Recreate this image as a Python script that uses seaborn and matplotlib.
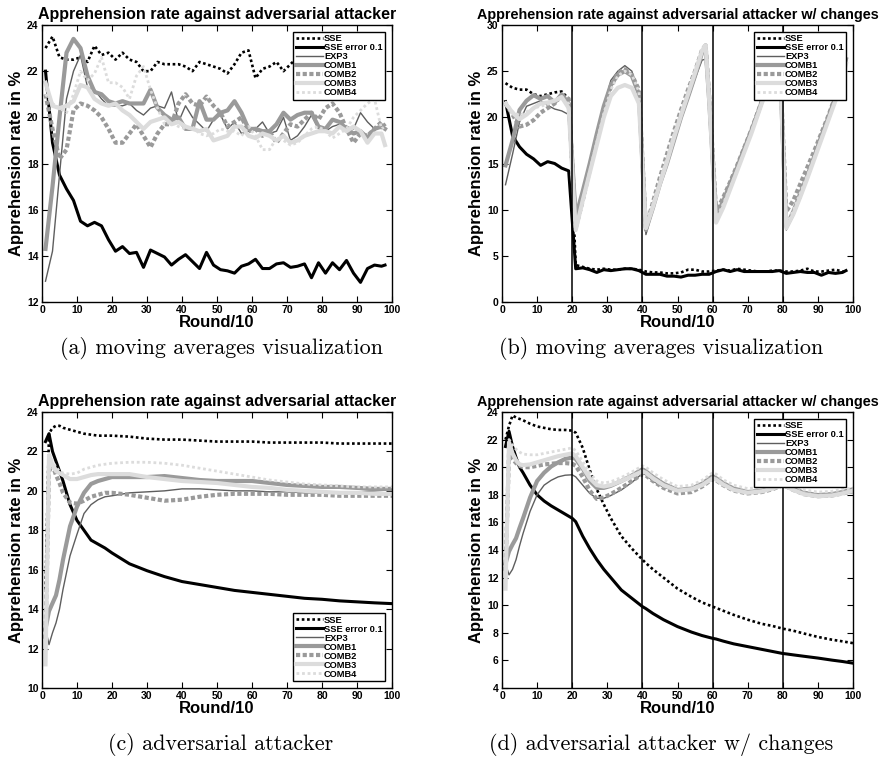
import matplotlib
matplotlib.use("Agg")
import matplotlib.pyplot as plt
import seaborn as sns

# ---------------- data ----------------
SERIES = ["SSE", "SSE error 0.1", "EXP3", "COMB1", "COMB2", "COMB3", "COMB4"]
CHANGE_POINTS = [20, 40, 60, 80]

# (a) moving averages, adversarial attacker
ROUNDS_A = list(range(1, 98, 2)) + [98]
A_SSE = [23.0, 23.5, 22.6, 22.5, 22.5, 22.6, 22.4, 23.1, 22.7, 22.8,
         22.5, 22.8, 22.5, 22.4, 22.0, 22.0, 22.4, 22.3, 22.3, 22.3,
         22.2, 22.0, 22.4, 22.3, 22.2, 22.1, 21.9, 22.3, 22.8, 22.9,
         21.7, 22.1, 22.2, 22.4, 22.0, 22.3, 22.6, 22.3, 22.4, 22.2,
         22.5, 22.3, 22.4, 22.2, 22.5, 22.3, 22.4, 22.5, 22.4, 22.5]
A_SSE_ERR = [22.0, 18.9, 17.5, 16.9, 16.4, 15.5, 15.3, 15.45, 15.3, 14.7,
             14.2, 14.4, 14.1, 14.15, 13.5, 14.25, 14.1, 13.95, 13.6, 13.85,
             14.05, 13.75, 13.45, 14.15, 13.6, 13.4, 13.35, 13.25, 13.55, 13.65,
             13.85, 13.45, 13.45, 13.65, 13.7, 13.5, 13.55, 13.65, 13.05, 13.7,
             13.25, 13.7, 13.4, 13.8, 13.25, 12.85, 13.45, 13.6, 13.55, 13.6]
A_EXP3 = [12.9, 14.2, 17.5, 20.8, 22.0, 22.7, 21.3, 21.2, 20.8, 20.5,
          20.5, 20.5, 20.6, 20.3, 20.1, 20.4, 20.5, 20.4, 21.1, 19.8,
          20.5, 20.0, 19.7, 19.4, 19.9, 20.1, 19.5, 19.8, 19.3, 19.4,
          19.5, 19.8, 19.3, 19.4, 20.0, 19.0, 19.2, 19.6, 20.1, 19.5,
          19.4, 19.6, 19.7, 19.6, 19.5, 20.2, 19.8, 19.5, 19.6, 19.5]
A_COMB1 = [14.3, 17.0, 20.0, 22.8, 23.4, 23.0, 21.8, 21.1, 21.0, 20.7,
           20.6, 20.7, 20.6, 20.6, 20.6, 21.2, 20.4, 20.1, 19.9, 20.0,
           19.5, 19.5, 20.7, 19.9, 19.9, 20.2, 20.3, 20.7, 20.2, 19.5,
           19.5, 19.4, 19.4, 19.7, 20.2, 19.9, 20.1, 20.2, 20.2, 19.6,
           19.5, 19.9, 19.8, 19.5, 19.3, 19.4, 19.1, 19.5, 19.6, 19.5]
A_COMB2 = [21.0, 19.5, 18.2, 18.6, 20.3, 20.6, 20.5, 20.3, 20.0, 19.5,
           18.9, 18.9, 19.3, 19.7, 19.2, 18.7, 19.3, 19.7, 19.7, 20.6,
           21.0, 20.6, 20.5, 20.9, 20.5, 20.2, 19.6, 19.8, 20.0, 19.4,
           19.5, 19.2, 19.4, 18.9, 19.3, 19.7, 19.6, 19.9, 20.2, 19.9,
           20.4, 20.6, 20.2, 19.5, 18.9, 19.3, 19.2, 19.5, 19.8, 19.6]
A_COMB3 = [21.5, 20.5, 20.4, 20.5, 20.7, 21.4, 21.3, 20.8, 20.6, 20.5,
           20.6, 20.3, 20.1, 19.8, 19.5, 19.8, 19.9, 20.0, 19.7, 19.8,
           19.6, 19.5, 19.4, 19.5, 19.0, 19.1, 19.2, 19.6, 19.6, 19.2,
           19.1, 19.3, 19.2, 19.0, 19.2, 18.9, 19.0, 19.2, 19.3, 19.4,
           19.4, 19.3, 19.6, 19.4, 19.6, 19.4, 18.9, 19.3, 19.3, 18.8]
A_COMB4 = [21.0, 20.6, 20.4, 20.2, 21.0, 22.0, 21.6, 21.9, 22.6, 21.5,
           21.5, 21.3, 20.8, 21.8, 22.2, 21.2, 20.4, 19.7, 19.8, 19.6,
           19.5, 19.6, 19.3, 19.2, 19.3, 19.5, 19.4, 19.4, 19.2, 19.6,
           19.2, 18.6, 18.6, 19.1, 19.0, 18.8, 18.9, 19.2, 19.5, 19.6,
           19.4, 19.1, 19.3, 19.5, 20.0, 20.3, 20.6, 20.8, 19.5, 19.6]

# (b) moving averages, adversarial attacker with changes
ROUNDS_B = list(range(1, 58, 2)) + [58] + list(range(59, 98, 2)) + [98]
B_SSE = [23.7, 23.2, 23.0, 23.0, 22.5, 22.3, 22.5, 22.7, 22.8, 22.0,
         4.0, 3.8, 3.6, 3.5, 3.6, 3.5, 3.5, 3.6, 3.6, 3.5,
         3.3, 3.2, 3.2, 3.1, 3.1, 3.2, 3.5, 3.5, 3.3, 3.3,
         3.3, 3.4, 3.5, 3.4, 3.6, 3.5, 3.4, 3.3, 3.3, 3.4,
         3.4, 3.3, 3.3, 3.4, 3.6, 3.3, 3.3, 3.4, 3.5, 3.3, 3.3]
B_SSE_ERR = [21.7, 18.0, 16.8, 16.0, 15.5, 14.8, 15.2, 15.0, 14.5, 14.2,
             3.6, 3.7, 3.5, 3.2, 3.5, 3.4, 3.5, 3.6, 3.6, 3.4,
             3.0, 3.0, 3.0, 2.8, 2.8, 2.7, 2.9, 2.9, 3.0, 3.0,
             3.0, 3.3, 3.5, 3.3, 3.5, 3.3, 3.3, 3.3, 3.3, 3.3,
             3.4, 3.1, 3.2, 3.3, 3.2, 3.2, 2.9, 3.2, 3.1, 3.2, 3.4]
B_EXP3 = [12.7, 16.0, 19.5, 21.2, 21.5, 21.8, 21.3, 20.9, 20.7, 20.3,
          8.8, 11.8, 14.8, 18.0, 21.0, 24.0, 25.0, 25.6, 25.0, 22.5,
          7.3, 10.0, 12.5, 14.8, 17.3, 19.8, 22.0, 24.2, 26.2, 26.3,
          22.0, 9.2, 10.8, 12.7, 14.5, 16.5, 18.5, 20.5, 22.6, 24.8,
          27.0, 7.8, 9.3, 11.2, 13.3, 15.5, 17.7, 19.8, 22.0, 24.6, 26.0]
B_COMB1 = [14.8, 17.5, 20.8, 21.8, 22.4, 22.0, 22.3, 21.6, 22.5, 21.5,
           9.2, 12.0, 15.0, 18.2, 21.2, 23.5, 24.6, 25.0, 24.5, 22.5,
           7.8, 10.2, 12.8, 15.0, 17.5, 20.0, 22.2, 24.5, 27.0, 27.6,
           22.0, 9.3, 10.9, 12.8, 14.6, 16.6, 18.5, 20.6, 22.8, 25.0,
           27.3, 8.2, 9.8, 11.8, 13.7, 15.8, 18.0, 20.0, 22.2, 24.8, 26.3]
B_COMB2 = [21.5, 20.3, 19.0, 19.2, 19.7, 20.5, 21.0, 21.5, 22.4, 22.0,
           8.0, 11.0, 14.3, 17.5, 20.8, 23.3, 24.8, 25.2, 24.6, 23.0,
           8.0, 10.8, 13.5, 16.0, 18.5, 20.8, 23.0, 25.0, 27.3, 27.8,
           22.5, 9.8, 11.3, 13.0, 14.8, 16.7, 18.6, 20.7, 22.8, 25.0,
           27.3, 9.8, 11.0, 12.8, 14.6, 16.4, 18.3, 20.2, 22.3, 24.8, 26.5]
B_COMB3 = [21.5, 20.5, 19.8, 20.3, 21.0, 21.5, 21.6, 21.8, 22.2, 21.0,
           7.8, 11.0, 14.0, 17.0, 20.0, 22.3, 23.2, 23.5, 23.2, 21.5,
           8.0, 10.3, 12.8, 15.2, 17.8, 20.2, 22.5, 24.8, 27.2, 27.8,
           22.0, 8.6, 10.2, 12.2, 14.2, 16.2, 18.2, 20.4, 22.6, 24.8,
           27.0, 8.0, 9.5, 11.4, 13.4, 15.5, 17.6, 19.7, 21.8, 24.3, 25.8]
B_COMB4 = [21.7, 20.6, 20.2, 20.6, 21.0, 21.2, 21.4, 21.8, 22.0, 21.5,
           7.6, 11.0, 14.2, 17.3, 20.4, 23.0, 24.5, 25.0, 24.6, 22.8,
           8.2, 10.6, 13.2, 15.6, 18.2, 20.5, 22.8, 25.0, 27.4, 28.0,
           22.5, 9.0, 10.6, 12.4, 14.3, 16.3, 18.4, 20.5, 22.7, 25.0,
           27.2, 8.4, 9.9, 11.8, 13.7, 15.7, 17.8, 19.8, 21.9, 24.4, 26.0]

# (c) adversarial attacker
ROUNDS_C = [1, 2, 3, 4, 5, 6, 8, 10, 12, 14, 16, 18, 20, 25, 30,
            35, 40, 45, 50, 55, 60, 65, 70, 75, 80, 85, 90, 95, 100]
C_SSE = [15.0, 22.9, 23.2, 23.3, 23.3, 23.2, 23.1, 23.0, 22.9, 22.85,
         22.8, 22.8, 22.8, 22.75, 22.65, 22.6, 22.6, 22.55, 22.5, 22.5,
         22.5, 22.45, 22.45, 22.45, 22.45, 22.4, 22.4, 22.4, 22.4]
C_SSE_ERR = [22.5, 22.9, 22.0, 21.5, 21.0, 20.5, 19.3, 18.5, 18.0, 17.5,
             17.3, 17.1, 16.85, 16.3, 15.95, 15.65, 15.4, 15.25, 15.1, 14.95,
             14.85, 14.75, 14.65, 14.55, 14.5, 14.42, 14.37, 14.32, 14.28]
C_EXP3 = [13.0, 12.2, 12.8, 13.3, 14.0, 15.0, 16.7, 17.8, 18.85, 19.3,
          19.55, 19.7, 19.75, 19.9, 19.95, 20.0, 20.1, 20.1, 20.05, 20.0,
          20.0, 19.95, 19.95, 19.9, 19.9, 19.9, 19.95, 20.0, 20.05]
C_COMB1 = [13.0, 13.9, 14.3, 14.7, 15.5, 16.5, 18.2, 19.2, 19.9, 20.35,
           20.5, 20.6, 20.7, 20.7, 20.7, 20.75, 20.65, 20.55, 20.5, 20.5,
           20.5, 20.4, 20.3, 20.25, 20.2, 20.2, 20.15, 20.1, 20.1]
C_COMB2 = [12.5, 21.0, 21.3, 20.8, 20.4, 19.9, 19.4, 19.35, 19.5, 19.7,
           19.8, 19.9, 19.9, 19.8, 19.65, 19.5, 19.55, 19.7, 19.8, 19.85,
           19.85, 19.85, 19.8, 19.8, 19.8, 19.75, 19.75, 19.75, 19.75]
C_COMB3 = [11.2, 21.8, 21.3, 21.0, 20.9, 20.8, 20.6, 20.6, 20.7, 20.8,
           20.85, 20.85, 20.85, 20.85, 20.7, 20.6, 20.5, 20.45, 20.4, 20.3,
           20.2, 20.15, 20.05, 20.0, 19.95, 19.9, 19.9, 19.85, 19.85]
C_COMB4 = [11.5, 21.9, 21.5, 21.2, 21.0, 20.9, 20.85, 20.9, 21.1, 21.2,
           21.3, 21.35, 21.4, 21.45, 21.45, 21.4, 21.3, 21.15, 21.0, 20.85,
           20.7, 20.55, 20.45, 20.35, 20.3, 20.25, 20.2, 20.2, 20.2]

# (d) adversarial attacker with changes
ROUNDS_D = [1, 2, 3, 4, 5, 6, 8, 10, 12, 14, 16, 18, 20, 21, 23,
            25, 27, 29, 31, 34, 37, 40, 41, 43, 46, 50, 54, 57, 60, 61,
            63, 66, 70, 74, 77, 80, 81, 83, 86, 90, 94, 97, 100]
D_SSE = [22.0, 23.0, 23.75, 23.6, 23.5, 23.4, 23.15, 22.95, 22.85, 22.75,
         22.7, 22.7, 22.65, 22.5, 21.4, 19.8, 18.4, 17.3, 16.3, 15.0,
         14.1, 13.3, 13.05, 12.6, 12.0, 11.2, 10.6, 10.2, 9.9, 9.8,
         9.6, 9.3, 8.95, 8.65, 8.5, 8.3, 8.25, 8.15, 7.95, 7.7,
         7.5, 7.38, 7.25]
D_SSE_ERR = [21.5, 22.6, 21.5, 20.7, 20.0, 19.6, 18.7, 18.0, 17.55, 17.2,
             16.9, 16.6, 16.3, 16.05, 15.0, 14.1, 13.3, 12.6, 12.0, 11.1,
             10.5, 9.9, 9.75, 9.4, 8.95, 8.45, 8.05, 7.8, 7.6, 7.55,
             7.4, 7.2, 7.0, 6.8, 6.65, 6.5, 6.47, 6.4, 6.3, 6.17,
             6.02, 5.92, 5.8]
D_EXP3 = [13.0, 12.2, 12.6, 13.3, 14.3, 15.2, 16.8, 18.0, 18.7, 19.05,
          19.3, 19.42, 19.45, 19.3, 18.7, 18.1, 17.75, 17.75, 17.95, 18.35,
          18.9, 19.55, 19.45, 19.0, 18.55, 18.25, 18.35, 18.7, 19.2, 19.1,
          18.7, 18.35, 18.15, 18.25, 18.45, 18.75, 18.65, 18.4, 18.1, 17.9,
          17.95, 18.05, 18.2]
D_COMB1 = [13.0, 13.9, 14.4, 14.85, 15.6, 16.3, 17.8, 19.0, 19.6, 20.05,
           20.35, 20.6, 20.7, 20.6, 19.9, 19.0, 18.5, 18.5, 18.65, 19.0,
           19.4, 19.85, 19.7, 19.3, 18.8, 18.35, 18.45, 18.8, 19.35, 19.2,
           18.85, 18.45, 18.2, 18.3, 18.5, 18.8, 18.7, 18.45, 18.15, 17.98,
           18.05, 18.2, 18.4]
D_COMB2 = [12.5, 21.0, 20.6, 20.3, 20.1, 20.0, 20.0, 20.1, 20.2, 20.25,
           20.3, 20.3, 20.25, 20.1, 19.3, 18.3, 17.7, 17.8, 18.05, 18.5,
           19.0, 19.5, 19.4, 19.0, 18.5, 18.1, 18.2, 18.6, 19.15, 19.05,
           18.7, 18.3, 18.1, 18.2, 18.4, 18.7, 18.6, 18.35, 18.05, 17.9,
           17.95, 18.1, 18.25]
D_COMB3 = [11.2, 21.8, 21.0, 20.5, 20.2, 20.15, 20.2, 20.35, 20.5, 20.65,
           20.8, 20.9, 21.0, 20.8, 20.0, 19.2, 18.7, 18.6, 18.7, 19.0,
           19.35, 19.7, 19.6, 19.2, 18.7, 18.3, 18.4, 18.7, 19.2, 19.1,
           18.75, 18.35, 18.15, 18.25, 18.45, 18.7, 18.6, 18.35, 18.05, 17.9,
           17.95, 18.1, 18.3]
D_COMB4 = [11.5, 22.0, 21.6, 21.3, 21.1, 20.95, 20.9, 20.9, 21.0, 21.1,
           21.2, 21.3, 21.4, 21.2, 20.4, 19.6, 19.0, 18.85, 18.95, 19.25,
           19.65, 20.1, 20.0, 19.6, 19.1, 18.6, 18.7, 19.05, 19.6, 19.5,
           19.1, 18.7, 18.45, 18.55, 18.75, 19.0, 18.9, 18.65, 18.35, 18.2,
           18.25, 18.4, 18.5]

TITLE_1 = "Apprehension rate against adversarial attacker"
TITLE_2 = "Apprehension rate against adversarial attacker w/ changes"
CAPTIONS = ["(a) moving averages visualization", "(b) moving averages visualization",
            "(c) adversarial attacker", "(d) adversarial attacker w/ changes"]

# ---------------- style ----------------
plt.rcParams["font.family"] = ["Liberation Sans", "DejaVu Sans"]
plt.rcParams["font.weight"] = "bold"
plt.rcParams["axes.linewidth"] = 1.0

STYLE = {
    "SSE":           dict(color="black",   lw=1.9, ls=(0, (1, 1))),
    "SSE error 0.1": dict(color="black",   lw=2.2, ls="-"),
    "EXP3":          dict(color="#5e5e5e", lw=1.0, ls="-"),
    "COMB1":         dict(color="#9a9a9a", lw=3.0, ls="-"),
    "COMB2":         dict(color="#9a9a9a", lw=3.0, ls=(0, (1, 0.6))),
    "COMB3":         dict(color="#dcdcdc", lw=3.0, ls="-"),
    "COMB4":         dict(color="#dcdcdc", lw=2.0, ls=(0, (1, 1))),
}

W, H = 881, 769
fig = plt.figure(figsize=(W / 100, H / 100), dpi=100)


def px_axes(l, t, r, b):
    return fig.add_axes([l / W, 1 - b / H, (r - l) / W, (b - t) / H])


panels = [
    dict(box=(42, 25, 392, 302), rounds=ROUNDS_A,
         vals=[A_SSE, A_SSE_ERR, A_EXP3, A_COMB1, A_COMB2, A_COMB3, A_COMB4],
         ylim=(12, 24), ystep=2, title=TITLE_1, tsize=11.5, loc="upper right", changes=False),
    dict(box=(502, 25, 853, 302), rounds=ROUNDS_B,
         vals=[B_SSE, B_SSE_ERR, B_EXP3, B_COMB1, B_COMB2, B_COMB3, B_COMB4],
         ylim=(0, 30), ystep=5, title=TITLE_2, tsize=10.4, loc="upper right", changes=True),
    dict(box=(42, 412, 392, 688), rounds=ROUNDS_C,
         vals=[C_SSE, C_SSE_ERR, C_EXP3, C_COMB1, C_COMB2, C_COMB3, C_COMB4],
         ylim=(10, 24), ystep=2, title=TITLE_1, tsize=11.5, loc="lower right", changes=False),
    dict(box=(502, 412, 853, 688), rounds=ROUNDS_D,
         vals=[D_SSE, D_SSE_ERR, D_EXP3, D_COMB1, D_COMB2, D_COMB3, D_COMB4],
         ylim=(4, 24), ystep=2, title=TITLE_2, tsize=10.4, loc="upper right", changes=True),
]

for p in panels:
    ax = px_axes(*p["box"])
    for name, vals in zip(SERIES, p["vals"]):
        st = STYLE[name]
        sns.lineplot(x=p["rounds"], y=vals, ax=ax, color=st["color"],
                     linewidth=st["lw"], linestyle=st["ls"], label=name,
                     estimator=None, sort=False, legend=False)
    if p["changes"]:
        for c in CHANGE_POINTS:
            ax.axvline(c, color="black", lw=1.1, zorder=3)
    ax.set_xlim(0, 100)
    ax.set_ylim(*p["ylim"])
    ax.set_xticks(range(0, 101, 10))
    ax.set_yticks(range(p["ylim"][0], p["ylim"][1] + 1, p["ystep"]))
    ax.tick_params(direction="in", top=True, right=True, length=4, width=0.8,
                   labelsize=7.5, pad=2.5)
    ax.set_title(p["title"], fontsize=p["tsize"], fontweight="bold", pad=4)
    ax.set_xlabel("Round/10", fontsize=12, fontweight="bold", labelpad=0)
    ax.set_ylabel("Apprehension rate in %", fontsize=12, fontweight="bold", labelpad=2)
    for s in ax.spines.values():
        s.set_color("black")
    leg = ax.legend(loc=p["loc"], fontsize=6.7, frameon=True, fancybox=False,
                    framealpha=1, edgecolor="black", handlelength=2.9,
                    handletextpad=0.1, labelspacing=0.0, borderpad=0.3,
                    borderaxespad=0.7)
    leg.get_frame().set_linewidth(1.0)
    leg.set_zorder(10)

cap_pos = [(221, 348), (661, 348), (221, 745), (661, 745)]
for (cx, cy), text in zip(cap_pos, CAPTIONS):
    fig.text(cx / W, 1 - cy / H, text, family="cmr10", fontweight="normal",
             fontsize=15.9, ha="center", va="center")

fig.savefig("out.png", dpi=100, facecolor="white")
